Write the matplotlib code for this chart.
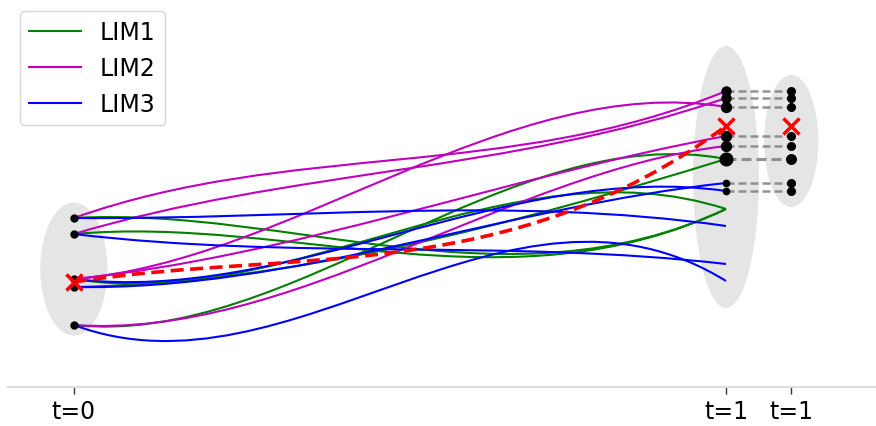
import matplotlib
matplotlib.use("Agg")
import matplotlib.pyplot as plt
from matplotlib.path import Path
from matplotlib.patches import PathPatch, Ellipse
from matplotlib.lines import Line2D

# ---------------- data ----------------
tick_positions = [0.0, 1.0, 1.1]
tick_labels = ["t=0", "t=1", "t=1"]

source_y = [0.81, 0.65, 0.20, 0.12, -0.26]
matched_y = [2.08, 2.01, 1.92, 1.63, 1.53, 1.40, 1.16, 1.08]
endpoint_w = [1.0, 1.0, 1.1, 1.1, 1.1, 1.4, 0.7, 0.7]
target_w = [1.0, 1.0, 1.0, 1.0, 1.0, 1.25, 1.0, 1.0]
mean_y = [0.17, 1.73, 1.73]

# Bezier trajectories: start y, ctrl1 (x, y), ctrl2 (x, y), end y
lim1_start = [0.81, 0.65, 0.20, 0.12, -0.26]
lim1_c1 = [(0.333, 0.93), (0.333, 0.84), (0.333, -0.15), (0.333, 0.16), (0.333, -0.49)]
lim1_c2 = [(0.667, -0.12), (0.667, -0.13), (0.667, 1.60), (0.667, 0.73), (0.667, 1.81)]
lim1_end = [0.90, 0.90, 0.90, 1.40, 1.40]

lim2_start = [0.81, 0.65, 0.20, 0.20, -0.26]
lim2_c1 = [(0.333, 1.58), (0.333, 1.30), (0.333, 0.37), (0.333, 0.42), (0.333, -0.41)]
lim2_c2 = [(0.667, 1.18), (0.667, 1.26), (0.667, 2.28), (0.667, 1.23), (0.667, 1.28)]
lim2_end = [2.08, 2.01, 1.92, 1.63, 1.53]

lim3_start = [0.81, 0.65, 0.20, 0.12, -0.26]
lim3_c1 = [(0.333, 0.79), (0.333, 0.39), (0.333, -0.06), (0.333, 0.08), (0.333, -1.07)]
lim3_c2 = [(0.667, 1.04), (0.667, 0.60), (0.667, 1.39), (0.667, 0.93), (0.667, 1.52)]
lim3_end = [0.73, 0.35, 1.08, 1.16, 0.18]

mean_c1 = (0.333, 0.51)
mean_c2 = (0.667, 0.12)

# spread of the distributions (centre x, centre y, width, height)
spread_x = [0.0, 1.0, 1.1]
spread_y = [0.30, 1.22, 1.58]
spread_w = [0.103, 0.101, 0.083]
spread_h = [1.33, 2.62, 1.32]

# ---------------- plot ----------------
fig = plt.figure(figsize=(8.76, 4.27), dpi=100)
ax = fig.add_axes([8 / 876, 39.5 / 427, 868 / 876, 387.5 / 427])
ax.set_xlim(-0.101, 1.230)
ax.set_ylim(-0.875, 3.0)

for cx, cy, w, h in zip(spread_x, spread_y, spread_w, spread_h):
    ax.add_patch(Ellipse((cx, cy), w, h, facecolor="#e5e5e5", edgecolor="none", zorder=0))


def bezier(y0, c1, c2, y1, **kw):
    verts = [(tick_positions[0], y0), c1, c2, (tick_positions[1], y1)]
    codes = [Path.MOVETO, Path.CURVE4, Path.CURVE4, Path.CURVE4]
    ax.add_patch(PathPatch(Path(verts, codes), facecolor="none", **kw))


methods = [
    ("LIM1", "g", lim1_start, lim1_c1, lim1_c2, lim1_end),
    ("LIM2", "m", lim2_start, lim2_c1, lim2_c2, lim2_end),
    ("LIM3", "b", lim3_start, lim3_c1, lim3_c2, lim3_end),
]
handles = []
for name, col, s, c1, c2, e in methods:
    for a, b, c, d in zip(s, c1, c2, e):
        bezier(a, b, c, d, edgecolor=col, lw=1.5, zorder=2)
    handles.append(Line2D([], [], color=col, lw=1.5, label=name))

# mean trajectory
bezier(mean_y[0], mean_c1, mean_c2, mean_y[1], edgecolor="red", lw=2.6,
       linestyle=(0, (3.6, 1.8)), zorder=4)

# matching between flow endpoints and targets
for y, w, tw in zip(matched_y, endpoint_w, target_w):
    ax.plot([tick_positions[1], tick_positions[2]], [y, y], color="gray", alpha=0.85,
            lw=1.8 * tw, linestyle=(0, (3.2, 1.6)), zorder=3)
    ax.plot([tick_positions[1]], [y], "o", color="black", ms=6.5 * w, zorder=5)
    ax.plot([tick_positions[2]], [y], "o", color="black", ms=5.5 * tw, zorder=5)

ax.plot([tick_positions[0]] * len(source_y), source_y, "o", color="black", ms=5, zorder=5)

ax.plot(tick_positions, mean_y, "x", color="red", ms=11, mew=2.5, zorder=6)

ax.set_xticks(tick_positions)
ax.set_xticklabels(tick_labels, fontsize=17)
ax.set_yticks([])
for side in ["left", "right", "top"]:
    ax.spines[side].set_visible(False)
ax.spines["bottom"].set_color("#dddddd")
ax.spines["bottom"].set_linewidth(1.5)
ax.tick_params(axis="x", length=5, width=1, color="#333333", pad=4)
ax.patch.set_alpha(0)

leg = ax.legend(handles=handles, loc="upper left", fontsize=17, handlelength=2.2,
                borderaxespad=0.5, frameon=True)
leg.get_frame().set_edgecolor("#cccccc")

fig.savefig("out.png", dpi=100)
